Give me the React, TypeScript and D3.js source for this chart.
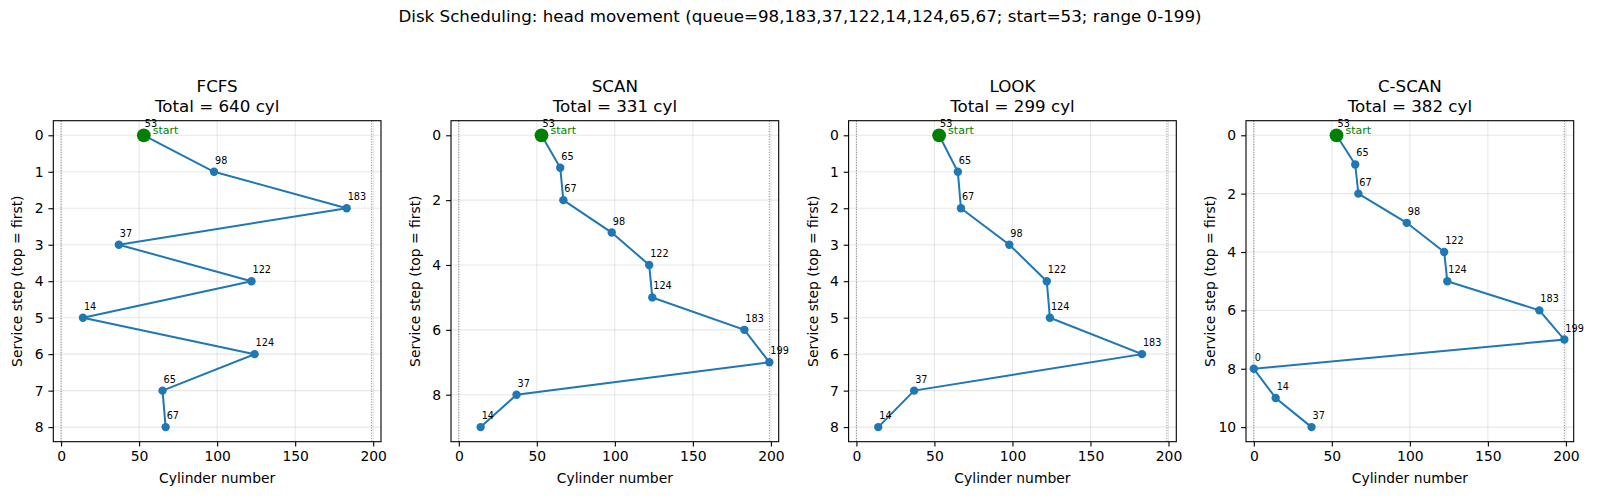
import * as React from 'react';
import * as d3 from 'd3';
import {useEffect, useRef} from 'react';

const SUPTITLE = 'Disk Scheduling: head movement (queue=98,183,37,122,14,124,65,67; start=53; range 0-199)';

const algorithms = ['FCFS', 'SCAN', 'LOOK', 'C-SCAN'];
const fcfsPath = [53, 98, 183, 37, 122, 14, 124, 65, 67];
const scanPath = [53, 65, 67, 98, 122, 124, 183, 199, 37, 14];
const lookPath = [53, 65, 67, 98, 122, 124, 183, 37, 14];
const cscanPath = [53, 65, 67, 98, 122, 124, 183, 199, 0, 14, 37];
const totals = [640, 331, 299, 382];
const xTicks = [0, 50, 100, 150, 200];
const diskEdges = [0, 199];

const paths = [fcfsPath, scanPath, lookPath, cscanPath];

const FONT = 'DejaVu Sans, sans-serif';
const BLUE = '#1f77b4';

interface IPanel {
    left: number;
    top: number;
    width: number;
    height: number;
}

const panelLefts = [53.3, 451, 848.6, 1246];
const panelTop = 120.7;
const panelWidth = 327.7;
const panelHeight = 321;

function drawPanel(svg: any, panel: IPanel, name: string, path: number[], total: number) {
    const g = svg.append('g').attr('transform', `translate(${panel.left},${panel.top})`);
    const n = path.length - 1;
    const x = d3.scaleLinear().domain([-5, 205]).range([0, panel.width]);
    const y = d3.scaleLinear().domain([-0.05 * n, n + 0.05 * n]).range([0, panel.height]);
    const yTicks = n > 8 ? d3.range(0, n + 1, 2) : d3.range(0, n + 1);

    // grid
    g.append('g').selectAll('line').data(xTicks).enter().append('line')
        .attr('x1', (d: number) => x(d)).attr('x2', (d: number) => x(d))
        .attr('y1', 0).attr('y2', panel.height)
        .attr('stroke', '#b0b0b0').attr('stroke-opacity', 0.3).attr('stroke-width', 1.1);
    g.append('g').selectAll('line').data(yTicks).enter().append('line')
        .attr('y1', (d: number) => y(d)).attr('y2', (d: number) => y(d))
        .attr('x1', 0).attr('x2', panel.width)
        .attr('stroke', '#b0b0b0').attr('stroke-opacity', 0.3).attr('stroke-width', 1.1);

    // disk boundaries
    g.append('g').selectAll('line').data(diskEdges).enter().append('line')
        .attr('x1', (d: number) => x(d)).attr('x2', (d: number) => x(d))
        .attr('y1', 0).attr('y2', panel.height)
        .attr('stroke', '#808080').attr('stroke-width', 1).attr('stroke-dasharray', '1,1.6');

    const line = d3.line<number>().x((d) => x(d)).y((_d, i) => y(i));
    g.append('path').datum(path).attr('d', line)
        .attr('fill', 'none').attr('stroke', BLUE).attr('stroke-width', 2);

    g.append('g').selectAll('circle').data(path).enter().append('circle')
        .attr('cx', (d: number) => x(d)).attr('cy', (_d: number, i: number) => y(i))
        .attr('r', 4.2).attr('fill', BLUE);

    g.append('circle').attr('cx', x(path[0])).attr('cy', y(0)).attr('r', 6.9).attr('fill', 'green');
    g.append('text').attr('x', x(path[0]) + 9).attr('y', y(0) - 1.5)
        .attr('font-size', 11).attr('fill', 'green').attr('font-family', FONT).text('start');

    g.append('g').selectAll('text').data(path).enter().append('text')
        .attr('x', (d: number) => x(d) + 1).attr('y', (_d: number, i: number) => y(i) - 8)
        .attr('font-size', 9.7).attr('fill', '#000').attr('font-family', FONT)
        .text((d: number) => String(d));

    // frame
    g.append('rect').attr('width', panel.width).attr('height', panel.height)
        .attr('fill', 'none').attr('stroke', '#000').attr('stroke-width', 1.1);

    const xAxis = g.append('g').attr('transform', `translate(0,${panel.height})`)
        .call(d3.axisBottom(x).tickValues(xTicks).tickSize(4.9).tickPadding(4.9));
    const yAxis = g.append('g')
        .call(d3.axisLeft(y).tickValues(yTicks).tickSize(4.9).tickPadding(4.9).tickFormat(d3.format('d')));
    [xAxis, yAxis].forEach((a: any) => {
        a.select('.domain').remove();
        a.selectAll('line').attr('stroke', '#000').attr('stroke-width', 1.1);
        a.selectAll('text').attr('font-size', 13.9).attr('font-family', FONT).attr('fill', '#000');
    });

    g.append('text').attr('x', panel.width / 2).attr('y', panel.height + 41)
        .attr('text-anchor', 'middle').attr('font-size', 13.9).attr('font-family', FONT)
        .text('Cylinder number');
    g.append('text').attr('transform', `translate(${-31},${panel.height / 2}) rotate(-90)`)
        .attr('text-anchor', 'middle').attr('font-size', 13.9).attr('font-family', FONT)
        .text('Service step (top = first)');

    g.append('text').attr('x', panel.width / 2).attr('y', -28.5)
        .attr('text-anchor', 'middle').attr('font-size', 16.7).attr('font-family', FONT).text(name);
    g.append('text').attr('x', panel.width / 2).attr('y', -8.5)
        .attr('text-anchor', 'middle').attr('font-size', 16.7).attr('font-family', FONT)
        .text(`Total = ${total} cyl`);
}

export default function App() {
    const svgRef = useRef<SVGSVGElement>(null);

    useEffect(() => {
        const svg = d3.select(svgRef.current);
        svg.selectAll('*').remove();
        svg.append('rect').attr('width', 1600).attr('height', 500).attr('fill', '#fff');
        svg.append('text').attr('x', 800).attr('y', 22).attr('text-anchor', 'middle')
            .attr('font-size', 16.7).attr('font-family', FONT).text(SUPTITLE);
        algorithms.forEach((name, i) => {
            const panel = {left: panelLefts[i], top: panelTop, width: panelWidth, height: panelHeight};
            drawPanel(svg, panel, name, paths[i], totals[i]);
        });
    }, []);

    return (
        <svg ref={svgRef} width={1600} height={500} viewBox="0 0 1600 500"
             style={{position: 'absolute', left: 0, top: 0}} xmlns="http://www.w3.org/2000/svg"/>
    );
}
